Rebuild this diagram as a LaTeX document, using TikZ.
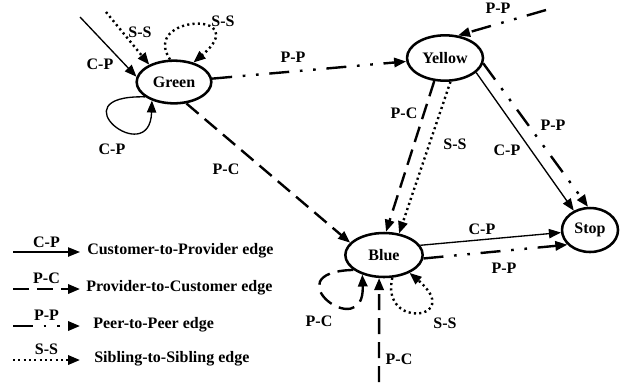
\documentclass[tikz,border=0pt]{standalone}
\usepackage{fontspec}
\setmainfont{Liberation Serif}
\usetikzlibrary{shapes.geometric}
\usetikzlibrary{arrows.meta}

\begin{document}
\begin{tikzpicture}[x=0.75pt, y=-0.75pt, line join=bevel,
                    font=\fontsize{12}{14}\selectfont\bfseries]

    % whole canvas, in pixels of the original figure
    \useasboundingbox (0,0) rectangle (627,387);

    \tikzset{%
      apply style/.code = {\tikzset{#1}},
      state/.style      = {ellipse, draw=black, line width=1.9pt, inner sep=0pt},
      lbl/.style        = {inner sep=0pt},
      tip/.style        = {-{Triangle[length=9pt,width=7pt]}},
      cpedge/.style     = {tip, line width=1pt},
      pcedge/.style     = {tip, line width=1.8pt, dash pattern=on 12pt off 6pt},
      ppedge/.style     = {tip, line width=1.8pt,
                           dash pattern=on 15pt off 8pt on 2pt off 8pt on 2pt off 8pt},
      ssedge/.style     = {tip, line width=1.8pt, dash pattern=on 1.6pt off 2.4pt}
    }

    % the four states
    \node[state, minimum width=56pt, minimum height=32pt] (green)  at (174,82)  {Green};
    \node[state, minimum width=57pt, minimum height=34pt] (yellow) at (445,58)  {Yellow};
    \node[state, minimum width=58pt, minimum height=33pt] (blue)   at (384,255) {Blue};
    \node[state, minimum width=42pt, minimum height=33pt] (stop)   at (590,230) {Stop};

    % loose ends of the incoming edges
    \coordinate (cpin) at (80,17);
    \coordinate (ssin) at (106,12);
    \coordinate (ppin) at (546,10);
    \coordinate (pcin) at (379,382);

    % edges around Green
    \draw[cpedge] (cpin) -- (green.172);
    \draw[ssedge] (ssin) -- (green.145);
    \draw[ssedge] (green.100) .. controls (140,15) and (255,10) .. (green.45);
    \draw[cpedge] (green.207) .. controls (55,95) and (150,170) .. (green.220);
    \draw[ppedge] (green) -- (yellow);
    \draw[pcedge] (green.300) -- (blue.160);

    % edges leaving Yellow
    \draw[ppedge] (ppin) -- (yellow.60);
    \draw[pcedge] (yellow.245) -- (blue.85);
    \draw[ssedge] (yellow.283) -- (blue.55);
    \draw[cpedge] (yellow.335) -- (stop.130);
    \draw[ppedge] (yellow.352) -- (stop.95);

    % edges around Blue
    \draw[cpedge] (blue.15) -- (stop.185);
    \draw[ppedge] (blue.355) -- (stop.213);
    \draw[pcedge] (blue.206) .. controls (270,272) and (365,345) .. (blue.222);
    \draw[ssedge] (blue.290) .. controls (380,330) and (465,320) .. (blue.325);
    \draw[pcedge] (pcin) -- (blue.258);

    % edge labels
    \foreach \x/\y/\tag in {%
      100/64/C-P, 140/32/S-S, 223/21/S-S, 112/149/C-P,
      293/57/P-P, 226/169/P-C, 498/8/P-P, 404/113/P-C,
      455/144/S-S, 507/150/C-P, 553/125/P-P, 482/229/C-P,
      504/268/P-P, 319/321/P-C, 445/323/S-S, 399/359/P-C%
    }{
      \node[lbl] (tag-\x-\y) at (\x,\y) {\tag};
    }

    % legend
    \foreach \n/\y/\edge/\tag/\xt/\txt in {%
      1/252/cpedge/C-P/87/Customer-to-Provider edge,
      2/289/pcedge/P-C/86/Provider-to-Customer edge,
      3/326/ppedge/P-P/93/Peer-to-Peer edge,
      4/360/ssedge/S-S/94/Sibling-to-Sibling edge%
    }{
      \coordinate (key\n a) at (13,\y);
      \coordinate (key\n b) at (80,\y);
      \draw[apply style/.expand once=\edge] (key\n a) --
        node[lbl, above=3pt] (key\n l) {\tag} (key\n b);
      \node[anchor=base west, inner sep=0pt] (key\n t) at (\xt,\y+2) {\txt};
    }

\end{tikzpicture}
\end{document}
